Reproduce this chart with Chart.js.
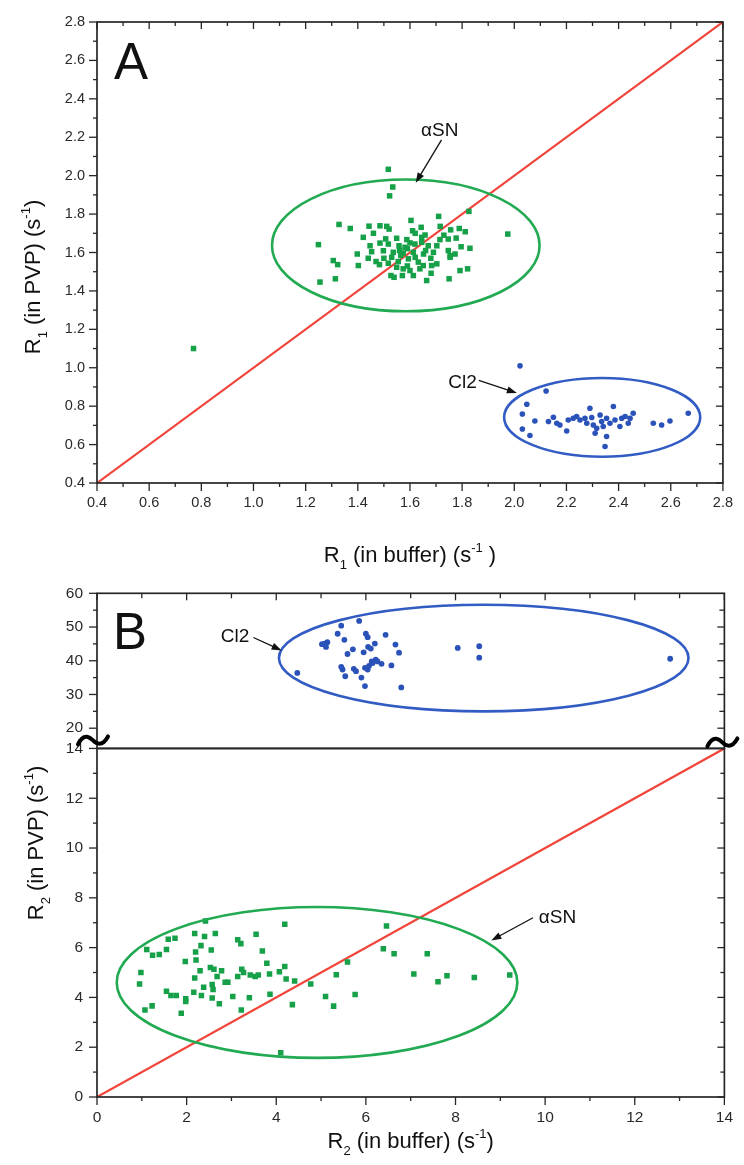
<!DOCTYPE html>
<html>
<head>
<meta charset="utf-8">
<script src="https://cdn.jsdelivr.net/npm/chart.js@4.4.1/dist/chart.umd.min.js"></script>
<style>
  html, body { margin: 0; padding: 0; background: #fff; }
  #wrap { position: relative; width: 744px; height: 1165px; }
  #boxA { position: absolute; left: 0; top: 0; width: 744px; height: 570px; }
  #boxB { position: absolute; left: 0; top: 570px; width: 744px; height: 595px; }
</style>
</head>
<body>
<div id="wrap">
  <div id="boxA"><canvas id="chartA" width="744" height="570"></canvas></div>
  <div id="boxB"><canvas id="chartB" width="744" height="595"></canvas></div>
</div>
<script>
// ---- Panel A: R1 (s^-1), buffer vs PVP ----
const r1Ticks = [0.4, 0.6, 0.8, 1.0, 1.2, 1.4, 1.6, 1.8, 2.0, 2.2, 2.4, 2.6, 2.8];
const r1Diagonal = [0.4, 2.8];

const asnR1Buffer = [1.517, 1.534, 1.522, 1.826, 1.975, 1.249, 1.328, 1.371, 1.443, 1.485, 1.511, 1.52, 1.604, 1.71, 1.716,
  1.61, 1.643, 1.756, 1.789, 1.812, 1.421, 1.507, 1.549, 1.588, 1.645, 1.658, 1.715, 1.747, 1.777, 1.447, 1.485, 1.517,
  1.558, 1.581, 1.619, 1.645, 1.67, 1.703, 1.747, 1.796, 1.83, 1.398, 1.453, 1.498, 1.536, 1.574, 1.613, 1.652, 1.69,
  1.754, 1.773, 1.306, 1.323, 1.402, 1.47, 1.483, 1.517, 1.555, 1.594, 1.632, 1.651, 1.703, 1.754, 1.549, 1.574, 1.6,
  1.638, 1.683, 1.792, 1.821, 1.314, 1.255, 1.527, 1.539, 1.571, 1.613, 1.664, 1.681, 1.75, 0.77,
  1.565, 1.59, 1.62, 1.53, 1.6, 1.56, 1.66, 1.5, 1.68, 1.44, 1.73, 1.46, 1.59, 1.62];
const asnR1Pvp = [2.033, 1.941, 1.895, 1.814, 1.696, 1.641, 1.746, 1.725, 1.737, 1.739, 1.736, 1.722, 1.767, 1.788, 1.736,
  1.713, 1.731, 1.718, 1.725, 1.708, 1.679, 1.671, 1.674, 1.667, 1.679, 1.691, 1.667, 1.67, 1.675, 1.635, 1.649, 1.644,
  1.635, 1.627, 1.644, 1.653, 1.635, 1.635, 1.61, 1.63, 1.622, 1.592, 1.604, 1.609, 1.601, 1.597, 1.601, 1.592, 1.601,
  1.583, 1.592, 1.558, 1.537, 1.532, 1.553, 1.537, 1.544, 1.553, 1.567, 1.55, 1.532, 1.541, 1.575, 1.523, 1.515, 1.506,
  1.515, 1.532, 1.506, 1.515, 1.463, 1.446, 1.48, 1.471, 1.48, 1.48, 1.454, 1.492, 1.463, 1.10,
  1.585, 1.62, 1.575, 1.575, 1.65, 1.61, 1.61, 1.57, 1.57, 1.57, 1.69, 1.70, 1.53, 1.70];

const cl2R1Buffer = [2.022, 2.122, 2.048, 2.031, 2.079, 2.031, 2.06, 2.131, 2.15, 2.163, 2.175, 2.201, 2.207, 2.226, 2.239,
  2.252, 2.271, 2.278, 2.29, 2.297, 2.303, 2.31, 2.316, 2.329, 2.335, 2.341, 2.354, 2.354, 2.367, 2.38, 2.386, 2.405,
  2.412, 2.425, 2.437, 2.444, 2.456, 2.533, 2.565, 2.597, 2.667, 2.348];
const cl2R1Pvp = [1.01, 0.879, 0.81, 0.759, 0.723, 0.681, 0.647, 0.72, 0.742, 0.711, 0.702, 0.671, 0.728, 0.737, 0.746,
  0.728, 0.737, 0.711, 0.789, 0.741, 0.702, 0.659, 0.685, 0.754, 0.72, 0.694, 0.737, 0.642, 0.711, 0.798, 0.728, 0.694,
  0.737, 0.746, 0.711, 0.737, 0.763, 0.711, 0.702, 0.723, 0.763, 0.59];

// ---- Panel B: R2 (s^-1), buffer vs PVP (broken y axis) ----
const r2Ticks = [0, 2, 4, 6, 8, 10, 12, 14];
const r2HighTicks = [20, 30, 40, 50, 60];
const r2Diagonal = [0, 14];

const asnR2Buffer = [2.42, 4.19, 6.46, 1.59, 1.74, 2.18, 2.40, 2.64, 3.14, 3.21, 3.55, 1.11, 1.24, 1.39, 1.55, 2.32, 2.20,
  2.55, 2.21, 6.39, 6.63, 7.37, 3.69, 1.97, 3.79, 5.59, 0.98, 0.95, 2.30, 2.53, 2.61, 2.78, 2.68, 2.18, 3.14, 3.23, 3.27,
  3.42, 3.53, 3.60, 3.85, 4.07, 4.19, 4.22, 4.41, 4.77, 5.34, 7.07, 7.61, 7.81, 8.42, 9.21, 2.86, 2.92, 2.57, 2.38, 2.59,
  1.55, 1.65, 1.77, 1.98, 1.98, 2.16, 2.33, 2.57, 2.73, 3.03, 3.40, 3.86, 5.10, 5.28, 5.76, 4.36, 3.22, 1.07, 1.23, 1.88, 4.10];
const asnR2Pvp = [7.07, 6.94, 6.87, 6.34, 6.38, 6.57, 6.45, 6.57, 6.32, 6.16, 6.54, 5.92, 5.69, 5.72, 5.92, 6.08, 5.82,
  5.90, 5.50, 5.95, 5.75, 5.75, 5.86, 5.44, 5.37, 5.42, 5.00, 4.54, 5.07, 5.20, 5.13, 5.07, 4.84, 4.78, 4.84, 5.13, 5.00,
  4.90, 4.84, 4.90, 4.94, 5.03, 5.24, 4.74, 4.66, 4.54, 4.91, 4.94, 4.63, 4.87, 4.80, 4.90, 4.61, 4.61, 4.52, 4.41, 4.32,
  4.25, 4.08, 4.08, 3.95, 3.84, 4.21, 4.08, 3.98, 3.75, 4.04, 3.99, 4.13, 4.04, 3.65, 4.12, 3.71, 3.49, 3.49, 3.66, 3.36, 1.78];

const cl2R2Buffer = [4.47, 5.02, 5.08, 5.14, 5.11, 5.37, 5.45, 5.85, 5.52, 5.59, 5.71, 5.95, 6.00, 6.04, 6.20, 6.05, 6.11,
  6.44, 6.66, 6.74, 5.45, 5.48, 5.54, 5.73, 5.78, 5.90, 5.98, 6.04, 6.07, 6.13, 6.22, 6.26, 6.35, 6.15, 5.98, 6.57, 6.79,
  8.05, 8.53, 8.53, 12.79];
const cl2R2Pvp = [36.4, 44.9, 45.1, 45.5, 44.1, 48.0, 50.4, 51.8, 46.2, 42.0, 43.4, 42.5, 48.0, 47.0, 45.1, 44.1, 43.6,
  47.7, 44.8, 42.4, 38.2, 37.4, 35.4, 37.6, 36.9, 35.0, 37.9, 37.4, 38.5, 39.8, 40.3, 39.8, 39.1, 39.3, 32.5, 38.6, 32.1,
  43.8, 44.3, 40.9, 40.6];

// ---- annotations (data units) ----
const asnEllipseA = { cx: 1.584, cy: 1.637, rx: 0.513, ry: 0.343 };
const cl2EllipseA = { cx: 2.337, cy: 0.742, rx: 0.376, ry: 0.205 };
const asnEllipseB = { cx: 4.91, cy: 4.6, rx: 4.47, ry: 3.03 };
const cl2EllipseB = { cx: 8.63, cy: 40.8, rx: 4.57, ry: 15.8 };

const FONT = '"Liberation Sans", Arial, Helvetica, sans-serif';
const INK = '#262626';
const GREEN = 'rgb(22,160,72)';
const GREEN_LINE = 'rgb(34,170,82)';
const BLUE = 'rgb(42,82,185)';
const BLUE_LINE = 'rgb(50,92,196)';
const RED = 'rgb(240,68,58)';

const pairs = (xs, ys) => xs.map((x, i) => ({ x, y: ys[i] }));
const mids = arr => arr.slice(1).map((v, i) => (arr[i] + v) / 2);

function tickMarks(ctx, scale, values, horizontal, base, len) {
  values.forEach(v => {
    const p = scale.getPixelForValue(v);
    ctx.beginPath();
    if (horizontal) { ctx.moveTo(p, base); ctx.lineTo(p, base + len); }
    else { ctx.moveTo(base, p); ctx.lineTo(base + len, p); }
    ctx.stroke();
  });
}

function ellipse(ctx, sx, sy, e, color) {
  const cx = sx.getPixelForValue(e.cx), cy = sy.getPixelForValue(e.cy);
  const rx = Math.abs(sx.getPixelForValue(e.cx + e.rx) - cx);
  const ry = Math.abs(sy.getPixelForValue(e.cy + e.ry) - cy);
  ctx.save();
  ctx.strokeStyle = color;
  ctx.lineWidth = 2.6;
  ctx.beginPath();
  ctx.ellipse(cx, cy, rx, ry, 0, 0, Math.PI * 2);
  ctx.stroke();
  ctx.restore();
}

function arrow(ctx, sx, sy, x1, y1, x2, y2) {
  const ax = sx.getPixelForValue(x1), ay = sy.getPixelForValue(y1);
  const bx = sx.getPixelForValue(x2), by = sy.getPixelForValue(y2);
  const ang = Math.atan2(by - ay, bx - ax), L = 10, W = 3.6;
  ctx.save();
  ctx.strokeStyle = '#111';
  ctx.fillStyle = '#111';
  ctx.lineWidth = 1.3;
  ctx.beginPath();
  ctx.moveTo(ax, ay);
  ctx.lineTo(bx - 6 * Math.cos(ang), by - 6 * Math.sin(ang));
  ctx.stroke();
  ctx.beginPath();
  ctx.moveTo(bx, by);
  ctx.lineTo(bx - L * Math.cos(ang) + W * Math.sin(ang), by - L * Math.sin(ang) - W * Math.cos(ang));
  ctx.lineTo(bx - L * Math.cos(ang) - W * Math.sin(ang), by - L * Math.sin(ang) + W * Math.cos(ang));
  ctx.closePath();
  ctx.fill();
  ctx.restore();
}

function label(ctx, text, px, py, size, align) {
  ctx.save();
  ctx.fillStyle = '#111';
  ctx.font = size + 'px ' + FONT;
  ctx.textAlign = align;
  ctx.textBaseline = 'alphabetic';
  ctx.fillText(text, px, py);
  ctx.restore();
}

// parts: [text, kind] where kind 0 = normal, 1 = subscript, 2 = superscript
function richTitle(ctx, parts, x, y, size, rotate) {
  const small = Math.round(size * 0.6);
  ctx.save();
  ctx.translate(x, y);
  if (rotate) ctx.rotate(-Math.PI / 2);
  ctx.fillStyle = '#111';
  ctx.textBaseline = 'alphabetic';
  let total = 0;
  const widths = parts.map(([t, k]) => {
    ctx.font = (k ? small : size) + 'px ' + FONT;
    const w = ctx.measureText(t).width;
    total += w;
    return w;
  });
  let cx = -total / 2;
  parts.forEach(([t, k], i) => {
    ctx.font = (k ? small : size) + 'px ' + FONT;
    const dy = k === 1 ? size * 0.3 : k === 2 ? -size * 0.45 : 0;
    ctx.fillText(t, cx, dy);
    cx += widths[i];
  });
  ctx.restore();
}

function breakMark(ctx, x, y) {
  ctx.save();
  ctx.strokeStyle = '#000';
  ctx.lineWidth = 4;
  ctx.lineCap = 'round';
  ctx.beginPath();
  ctx.moveTo(x - 15, y + 1);
  ctx.bezierCurveTo(x - 9, y - 12, x - 2, y - 5, x, y - 3);
  ctx.bezierCurveTo(x + 3, y, x + 9, y + 4, x + 15, y - 7);
  ctx.stroke();
  ctx.restore();
}

const tickFont = size => ({ family: FONT, size });

// ---------------- Panel A ----------------
const panelA = {
  id: 'panelA',
  afterDatasetsDraw(chart) {
    const { ctx, chartArea: a, scales: { x, y } } = chart;
    ctx.save();
    ctx.beginPath();
    ctx.rect(a.left, a.top, a.right - a.left, a.bottom - a.top);
    ctx.clip();
    ellipse(ctx, x, y, asnEllipseA, GREEN_LINE);
    ellipse(ctx, x, y, cl2EllipseA, BLUE_LINE);
    ctx.restore();

    ctx.save();
    ctx.strokeStyle = INK;
    ctx.lineWidth = 1.7;
    ctx.strokeRect(a.left, a.top, a.right - a.left, a.bottom - a.top);
    ctx.lineWidth = 1.3;
    tickMarks(ctx, x, r1Ticks, true, a.bottom, 8);
    tickMarks(ctx, x, mids(r1Ticks), true, a.bottom, 4);
    tickMarks(ctx, x, r1Ticks, true, a.top, 7);
    tickMarks(ctx, x, mids(r1Ticks), true, a.top, 4);
    tickMarks(ctx, y, r1Ticks, false, a.left, -8);
    tickMarks(ctx, y, mids(r1Ticks), false, a.left, -4);
    tickMarks(ctx, y, r1Ticks, false, a.right, -7);
    tickMarks(ctx, y, mids(r1Ticks), false, a.right, -4);
    ctx.restore();

    arrow(ctx, x, y, 1.721, 2.186, 1.622, 1.963);
    label(ctx, '\u03b1SN', x.getPixelForValue(1.714), y.getPixelForValue(2.205), 19, 'center');
    arrow(ctx, x, y, 1.864, 0.934, 2.010, 0.868);
    label(ctx, 'Cl2', x.getPixelForValue(1.856), y.getPixelForValue(0.896), 19, 'right');
    label(ctx, 'A', a.left + 17, a.top + 57, 51, 'left');

    richTitle(ctx, [['R', 0], ['1', 1], [' (in buffer) (s', 0], ['-1', 2], [' )', 0]],
      (a.left + a.right) / 2, a.bottom + 79, 22, false);
    richTitle(ctx, [['R', 0], ['1', 1], [' (in PVP) (s', 0], ['-1', 2], [')', 0]],
      40, 277, 22, true);
  }
};

new Chart(document.getElementById('chartA'), {
  type: 'scatter',
  data: {
    datasets: [
      {
        label: '\u03b1SN',
        data: pairs(asnR1Buffer, asnR1Pvp),
        pointStyle: 'rect',
        pointRadius: 3.9,
        backgroundColor: GREEN,
        borderWidth: 0
      },
      {
        label: 'Cl2',
        data: pairs(cl2R1Buffer, cl2R1Pvp),
        pointStyle: 'circle',
        pointRadius: 2.8,
        backgroundColor: BLUE,
        borderWidth: 0
      },
      {
        label: 'y = x',
        data: pairs(r1Diagonal, r1Diagonal),
        showLine: true,
        borderColor: RED,
        borderWidth: 2.2,
        pointRadius: 0
      }
    ]
  },
  options: {
    responsive: false,
    animation: false,
    events: [],
    layout: { padding: { top: 22, right: 18, left: 0, bottom: 0 } },
    plugins: { legend: { display: false }, tooltip: { enabled: false } },
    scales: {
      x: {
        type: 'linear',
        min: 0.4,
        max: 2.8,
        grid: { display: false, drawTicks: false },
        border: { display: false },
        ticks: {
          padding: 11,
          autoSkip: false,
          maxRotation: 0,
          color: '#2a2a2a',
          font: tickFont(14.5),
          callback: v => v.toFixed(1)
        },
        afterBuildTicks: s => { s.ticks = r1Ticks.map(v => ({ value: v })); },
        afterFit: s => { s.height = 87; }
      },
      y: {
        type: 'linear',
        min: 0.4,
        max: 2.8,
        grid: { display: false, drawTicks: false },
        border: { display: false },
        ticks: {
          padding: 12,
          autoSkip: false,
          color: '#2a2a2a',
          font: tickFont(14.5),
          callback: v => v.toFixed(1)
        },
        afterBuildTicks: s => { s.ticks = r1Ticks.map(v => ({ value: v })); },
        afterFit: s => { s.width = 97; }
      }
    }
  },
  plugins: [panelA]
});

// ---------------- Panel B ----------------
const panelB = {
  id: 'panelB',
  afterDatasetsDraw(chart) {
    const { ctx, chartArea: a, scales: { x, yLow, yHigh } } = chart;
    ctx.save();
    ctx.beginPath();
    ctx.rect(a.left, yHigh.top, a.right - a.left, yHigh.bottom - yHigh.top);
    ctx.clip();
    ellipse(ctx, x, yHigh, cl2EllipseB, BLUE_LINE);
    ctx.restore();
    ctx.save();
    ctx.beginPath();
    ctx.rect(a.left, yLow.top, a.right - a.left, yLow.bottom - yLow.top);
    ctx.clip();
    ellipse(ctx, x, yLow, asnEllipseB, GREEN_LINE);
    ctx.restore();

    ctx.save();
    ctx.strokeStyle = INK;
    ctx.lineWidth = 1.7;
    ctx.strokeRect(a.left, yHigh.top, a.right - a.left, yHigh.bottom - yHigh.top);
    ctx.strokeRect(a.left, yLow.top, a.right - a.left, yLow.bottom - yLow.top);
    ctx.lineWidth = 1.3;
    tickMarks(ctx, x, r2Ticks, true, a.bottom, 8);
    tickMarks(ctx, x, mids(r2Ticks), true, a.bottom, 4);
    tickMarks(ctx, x, r2Ticks, true, yHigh.top, 7);
    tickMarks(ctx, x, mids(r2Ticks), true, yHigh.top, 5);
    tickMarks(ctx, yLow, r2Ticks, false, a.left, -8);
    tickMarks(ctx, yLow, mids(r2Ticks), false, a.left, -4);
    tickMarks(ctx, yLow, r2Ticks.slice(0, -1), false, a.right, -7);
    tickMarks(ctx, yLow, mids(r2Ticks), false, a.right, -4);
    tickMarks(ctx, yHigh, r2HighTicks, false, a.left, -8);
    tickMarks(ctx, yHigh, mids(r2HighTicks), false, a.left, -4);
    tickMarks(ctx, yHigh, r2HighTicks.slice(0, -1), false, a.right, -7);
    tickMarks(ctx, yHigh, mids(r2HighTicks), false, a.right, -5);
    ctx.restore();

    breakMark(ctx, a.left - 4, yLow.top - 5);
    breakMark(ctx, a.right - 2, yLow.top - 3);

    arrow(ctx, x, yHigh, 3.49, 46.9, 4.12, 43.05);
    label(ctx, 'Cl2', x.getPixelForValue(3.40), yHigh.getPixelForValue(45.7), 19, 'right');
    arrow(ctx, x, yLow, 9.73, 7.20, 8.80, 6.29);
    label(ctx, '\u03b1SN', x.getPixelForValue(9.86), yLow.getPixelForValue(6.98), 19, 'left');
    label(ctx, 'B', a.left + 16, yHigh.top + 56, 51, 'left');

    richTitle(ctx, [['R', 0], ['2', 1], [' (in buffer) (s', 0], ['-1', 2], [')', 0]],
      (a.left + a.right) / 2, a.bottom + 51, 22, false);
    richTitle(ctx, [['R', 0], ['2', 1], [' (in PVP) (s', 0], ['-1', 2], [')', 0]],
      43, 273, 22, true);
  }
};

new Chart(document.getElementById('chartB'), {
  type: 'scatter',
  data: {
    datasets: [
      {
        label: 'Cl2',
        data: pairs(cl2R2Buffer, cl2R2Pvp),
        yAxisID: 'yHigh',
        pointStyle: 'circle',
        pointRadius: 2.9,
        backgroundColor: BLUE,
        borderWidth: 0
      },
      {
        label: '\u03b1SN',
        data: pairs(asnR2Buffer, asnR2Pvp),
        yAxisID: 'yLow',
        pointStyle: 'rect',
        pointRadius: 3.9,
        backgroundColor: GREEN,
        borderWidth: 0
      },
      {
        label: 'y = x',
        data: pairs(r2Diagonal, r2Diagonal),
        yAxisID: 'yLow',
        showLine: true,
        borderColor: RED,
        borderWidth: 2.2,
        pointRadius: 0
      }
    ]
  },
  options: {
    responsive: false,
    animation: false,
    events: [],
    layout: { padding: { top: 12, right: 15, left: 0, bottom: 0 } },
    plugins: { legend: { display: false }, tooltip: { enabled: false } },
    scales: {
      x: {
        type: 'linear',
        min: 0,
        max: 14,
        grid: { display: false, drawTicks: false },
        border: { display: false },
        ticks: {
          padding: 11,
          autoSkip: false,
          maxRotation: 0,
          color: '#2a2a2a',
          font: tickFont(15.5),
          callback: v => String(v)
        },
        afterBuildTicks: s => { s.ticks = r2Ticks.map(v => ({ value: v })); },
        afterFit: s => { s.height = 68; }
      },
      yLow: {
        type: 'linear',
        position: 'left',
        stack: 'r2',
        stackWeight: 355,
        min: 0,
        max: 14,
        grid: { display: false, drawTicks: false },
        border: { display: false },
        ticks: {
          padding: 14,
          autoSkip: false,
          color: '#2a2a2a',
          font: tickFont(15.5),
          callback: v => String(v)
        },
        afterBuildTicks: s => { s.ticks = r2Ticks.map(v => ({ value: v })); },
        afterFit: s => { s.width = 97; }
      },
      yHigh: {
        type: 'linear',
        position: 'left',
        stack: 'r2',
        stackWeight: 158,
        min: 14,
        max: 60,
        grid: { display: false, drawTicks: false },
        border: { display: false },
        ticks: {
          padding: 14,
          autoSkip: false,
          color: '#2a2a2a',
          font: tickFont(15.5),
          callback: v => String(v)
        },
        afterBuildTicks: s => { s.ticks = r2HighTicks.map(v => ({ value: v })); },
        afterFit: s => { s.width = 97; }
      }
    }
  },
  plugins: [panelB]
});
</script>
</body>
</html>
